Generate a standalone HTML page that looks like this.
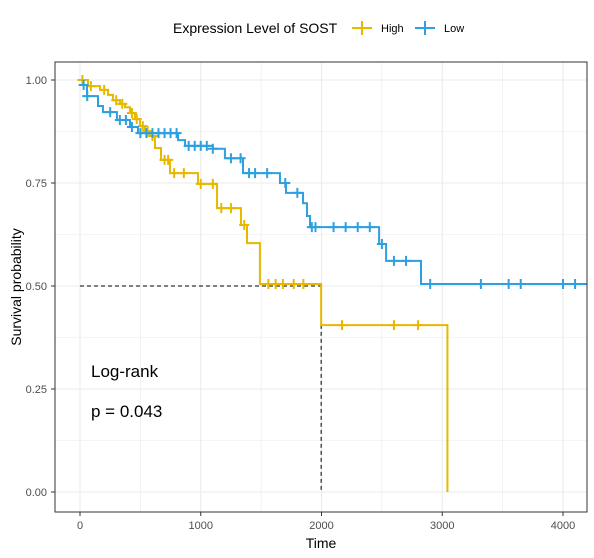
<!DOCTYPE html>
<html><head><meta charset="utf-8"><style>body{margin:0;background:#fff}svg{display:block;font-family:"Liberation Sans",Arial,sans-serif}</style></head>
<body>
<svg id="c" width="594" height="558"></svg>
<script>
const yTimes=[0,66,166,232,273,331,373,414,455,497,538,580,621,671,745,977,1135,1333,1383,1490,1997,3043];
const ySurv=[1.0,0.985,0.976,0.964,0.951,0.942,0.934,0.920,0.905,0.888,0.876,0.864,0.835,0.806,0.774,0.748,0.689,0.648,0.604,0.505,0.405,0];
const yCens=[20,90,200,300,350,430,470,520,560,600,700,730,780,860,1000,1100,1170,1250,1360,1560,1620,1680,1770,1850,2170,2600,2800];
const bTimes=[0,58,149,190,306,414,480,812,870,1100,1200,1350,1656,1706,1847,1880,1905,2477,2535,2824];
const bSurv=[0.988,0.961,0.937,0.922,0.903,0.886,0.871,0.854,0.840,0.833,0.81,0.774,0.75,0.726,0.701,0.670,0.643,0.602,0.561,0.505];
const bCens=[30,60,250,330,380,430,500,550,600,650,700,750,800,900,950,1000,1050,1100,1250,1330,1400,1450,1550,1700,1800,1920,1950,2100,2200,2300,2400,2500,2600,2700,2900,3320,3550,3650,4000,4100];
const xTicks=[0,1000,2000,3000,4000];
const yTicks=[0,0.25,0.5,0.75,1.0];
const yTickLabels=["0.00","0.25","0.50","0.75","1.00"];
const tEndBlue=4200;
const X=t=>80+t*(483/4000), Y=s=>492-s*412;
const svg=document.getElementById('c'),NS='http://www.w3.org/2000/svg';
function mk(tag,a,p){const e=document.createElementNS(NS,tag);for(const k in a)e.setAttribute(k,a[k]);(p||svg).appendChild(e);return e;}
// grid
for(let v=0;v<=4000;v+=500){const l=mk('line',{x1:X(v),x2:X(v),y1:62,y2:512,stroke:'#ebebeb','stroke-width':v%1000?0.6:1.1});

}
for(let v=0;v<=1;v+=0.125){const l=mk('line',{x1:55,x2:587,y1:Y(v),y2:Y(v),stroke:'#ebebeb','stroke-width':(v*8)%2?0.6:1.1});

}
// median lines
const med=mk('path',{d:`M${X(0)},${Y(0.5)}H${X(1997)}V${Y(0)}`,fill:'none',stroke:'#000','stroke-dasharray':'4,3','stroke-width':1});


function stepPath(T,S,end){let d=`M${X(T[0])},${Y(S[0])}`;for(let i=1;i<T.length;i++){d+=`H${X(T[i])}V${Y(S[i])}`;}if(end!=null)d+=`H${X(end)}`;return d;}
function sAt(T,S,t){let s=S[0];for(let i=0;i<T.length;i++)if(T[i]<=t)s=S[i];return s;}
function series(T,S,C,end,col,name){
const g=mk('g',{});
const p=mk('path',{d:stepPath(T,S,end),fill:'none',stroke:col,'stroke-width':2},g);


C.forEach(t=>{const x=X(t),y=Y(sAt(T,S,t));const m=mk('path',{d:`M${x-5},${y}H${x+5}M${x},${y-5}V${y+5}`,stroke:col,'stroke-width':2},g);

});}
series(yTimes,ySurv,yCens,null,'#E7B800','high-series');
series(bTimes,bSurv,bCens,tEndBlue,'#2E9FDF','low-series');
// border
const b=mk('rect',{x:55,y:62,width:532,height:450,fill:'none',stroke:'#333','stroke-width':1});

xTicks.forEach(v=>{mk('line',{x1:X(v),x2:X(v),y1:512,y2:516,stroke:'#333'});const t=mk('text',{x:X(v),y:529,'text-anchor':'middle','font-size':11,fill:'#4d4d4d'});t.textContent=v;
});
yTicks.forEach((v,i)=>{mk('line',{x1:51,x2:55,y1:Y(v),y2:Y(v),stroke:'#333'});const t=mk('text',{x:47,y:Y(v)+4,'text-anchor':'end','font-size':11,fill:'#4d4d4d'});t.textContent=yTickLabels[i];
});
</script>
<svg width="594" height="558" style="position:absolute;left:0;top:0">
<text x="321" y="548" text-anchor="middle" font-size="14">Time</text>
<text transform="translate(21,287) rotate(-90)" text-anchor="middle" font-size="14">Survival probability</text>
<text x="91" y="377" font-size="17">Log-rank</text>
<text x="91" y="417" font-size="17">p = 0.043</text>
<g>
<text x="173" y="33" font-size="14">Expression Level of SOST</text>
<g><path d="M352,28H372M362,21V35" stroke="#E7B800" stroke-width="2"/><text x="381" y="32" font-size="11">High</text></g>
<g><path d="M415,28H435M425,21V35" stroke="#2E9FDF" stroke-width="2"/><text x="444" y="32" font-size="11">Low</text></g>
</g>
</svg>
</body></html>
